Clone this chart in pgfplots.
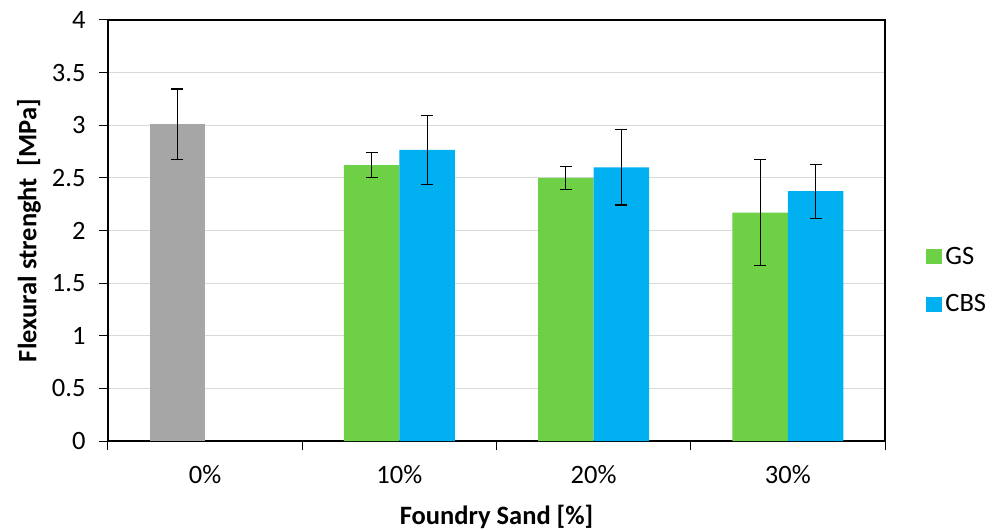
\documentclass[border=0pt]{standalone}
\usepackage{pgfplots}
\pgfplotsset{compat=1.18}
\usepackage{fontspec}
\setmainfont{Carlito}
\definecolor{cgray}{RGB}{166,166,166}
\definecolor{cgreen}{RGB}{110,208,68}
\definecolor{cblue}{RGB}{0,176,240}
\definecolor{cgrid}{RGB}{217,217,217}
\begin{document}
\begin{tikzpicture}[x=1bp,y=1bp]
\begin{axis}[
  scale only axis,
  width=777bp, height=421bp,
  xmin=-0.5, xmax=3.5, ymin=0, ymax=4,
  ybar,
  bar width=55.5bp,
  axis line style={black, line width=1.3bp},
  xtick={0,1,2,3},
  xticklabels={0\%,10\%,20\%,30\%},
  major x tick style={draw=none},
  minor xtick={-0.5,0.5,1.5,2.5,3.5},
  minor tick length=9bp,
  minor x tick style={black, line width=1bp},
  ytick={0,0.5,...,4},
  major tick length=9bp,
  major y tick style={black, line width=1bp},
  tick align=outside,
  xtick pos=bottom, ytick pos=left,
  ymajorgrids,
  grid style={cgrid, line width=1.2bp},
  /pgf/number format/assume math mode=true,
  yticklabel style={/pgf/number format/.cd, fixed, precision=1, /tikz/.cd, xshift=-10bp},
  xticklabel style={yshift=-12bp},
  ticklabel style={font=\fontsize{26.5bp}{31bp}\selectfont, text=black},
  xlabel={\textbf{Foundry Sand [\%]}},
  ylabel={\textbf{Flexural strenght\ \ [MPa]}},
  label style={font=\fontsize{26.5bp}{31bp}\selectfont},
  xlabel style={at={(axis description cs:0.5,-0.1805)}, anchor=center},
  ylabel style={at={(axis description cs:-0.1017,0.5)}, anchor=center},
  legend style={at={(axis description cs:1.053,0.382)}, anchor=west, draw=none, fill=none,
    font=\fontsize{26.5bp}{31bp}\selectfont, row sep=23bp, inner sep=0pt,
    nodes={inner sep=3bp}},
  legend cell align=left,
  legend image code/.code={\fill[#1,draw=none] (0bp,-7.5bp) rectangle (16bp,7.5bp);},
  error bars/error bar style={black, line width=1.2bp},
  error bars/error mark options={rotate=90, mark size=6bp, black, line width=1.2bp},
]
\addplot[fill=cgray, draw=none, bar shift=-27.75bp, forget plot,
  error bars/.cd, y dir=both, y explicit]
  coordinates {(0,3.01) +- (0,0.335)};
\addplot[fill=cgreen, draw=none, bar shift=-27.75bp,
  error bars/.cd, y dir=both, y explicit]
  coordinates {(1,2.62) +- (0,0.118) (2,2.50) +- (0,0.108) (3,2.17) +- (0,0.505)};
\addplot[fill=cblue, draw=none, bar shift=27.75bp,
  error bars/.cd, y dir=both, y explicit]
  coordinates {(1,2.765) +- (0,0.33) (2,2.60) +- (0,0.357) (3,2.373) +- (0,0.257)};
\legend{GS,CBS}
\coordinate (ll) at (rel axis cs:0,0);
\end{axis}
\pgfresetboundingbox
\path (ll) ++(-108bp,-89bp) rectangle ++(1000bp,530bp);
\end{tikzpicture}
\end{document}
